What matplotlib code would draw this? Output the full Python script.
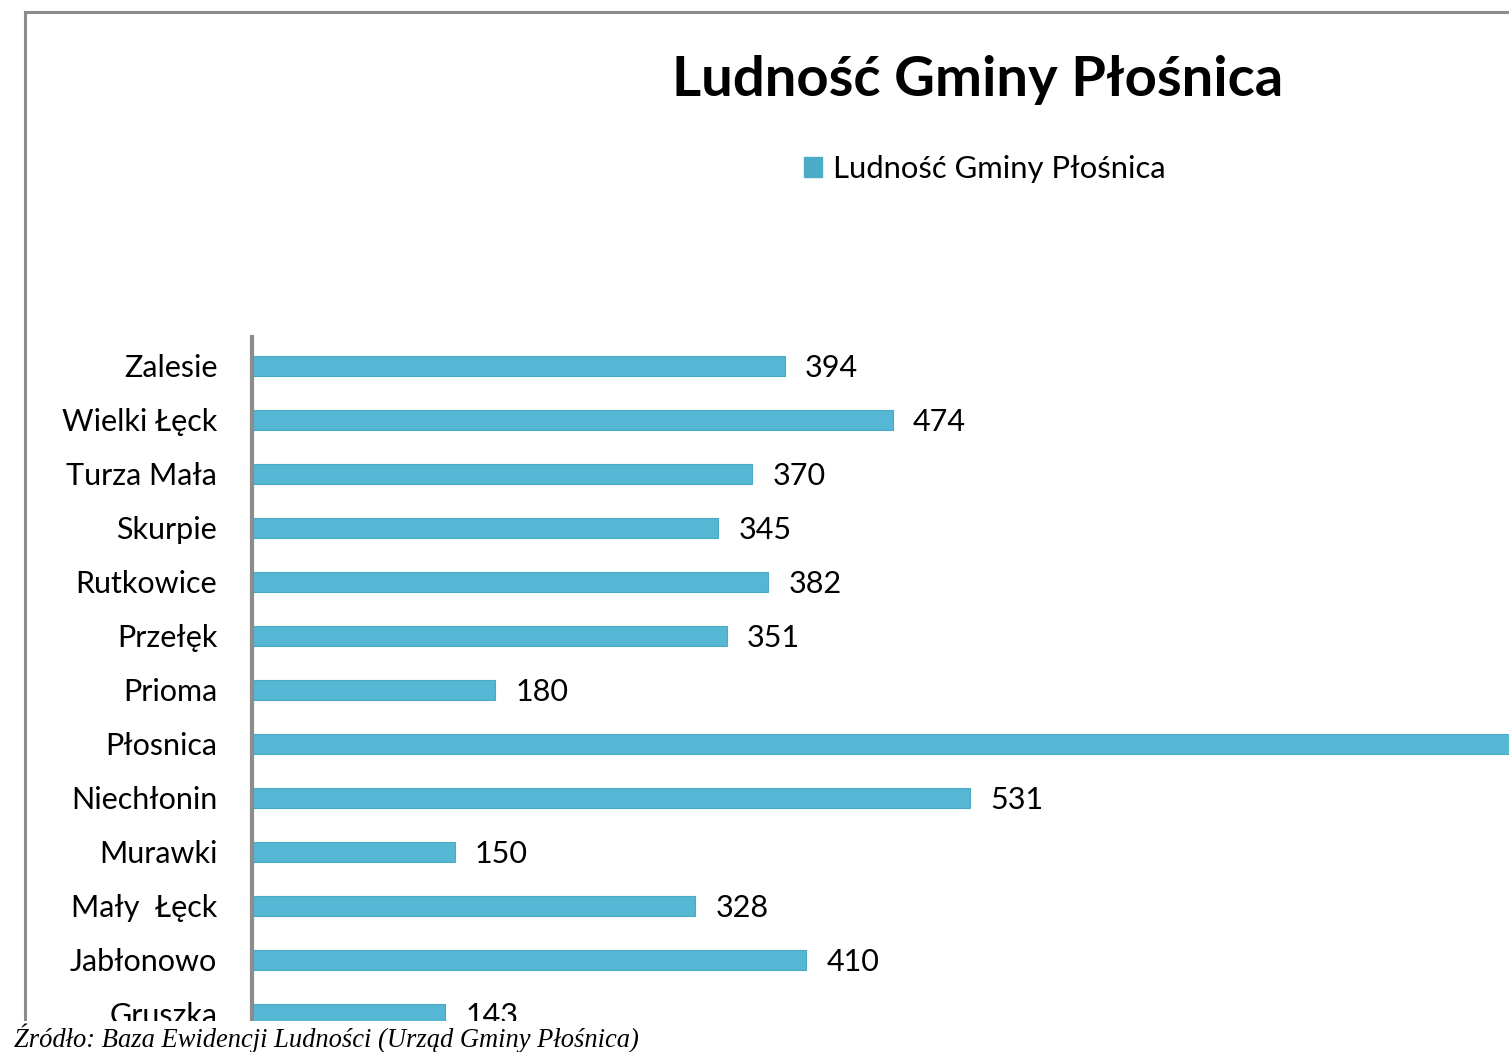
import matplotlib
matplotlib.use("Agg")
import matplotlib.pyplot as plt
from matplotlib.patches import Rectangle
from matplotlib.lines import Line2D

# data, top to bottom as drawn in the picture
villages = ["Zalesie", "Wielki Łęck", "Turza Mała", "Skurpie", "Rutkowice",
            "Przełęk", "Prioma", "Płosnica", "Niechłonin", "Murawki",
            "Mały  Łęck", "Jabłonowo", "Gruszka"]
population = [394, 474, 370, 345, 382, 351, 180, 1020, 531, 150, 328, 410, 143]
series_name = "Ludność Gminy Płośnica"
title = "Ludność Gminy Płośnica"
source = "Źródło: Baza Ewidencji Ludności (Urząd Gminy Płośnica)"

W, H = 1509, 1052
BAR = "#55b7d4"
FONT = "Lato"

fig = plt.figure(figsize=(W / 100, H / 100), dpi=100)

# axes: left edge at the value axis line, running off the right and bottom
left_px, top_px, bottom_px = 252, 337, 1041
px_per_unit = 1.352
ax = fig.add_axes([left_px / W, 1 - bottom_px / H, 1 - left_px / W, (bottom_px - top_px) / H])
xmax = (W - left_px) / px_per_unit
ax.set_xlim(0, xmax)
slot = 54.0
ax.set_ylim(-0.537 + (bottom_px - top_px) / slot, -0.537)

y = list(range(len(villages)))
ax.barh(y, population, height=0.37, color=BAR, edgecolor="#4aa9c4", linewidth=0.8)
for yi, v in zip(y, population):
    xt = v + 20 / px_per_unit
    if xt > xmax:
        continue  # label lies past the cropped edge
    ax.text(xt, yi + 0.04, str(v), va="center", ha="left",
            fontsize=22, family=FONT, color="black")

ax.set_yticks(y)
ax.set_yticklabels(villages, fontsize=22, family=FONT)
ax.tick_params(axis="y", length=0, pad=25)
ax.set_xticks([])
for s in ("top", "right", "bottom"):
    ax.spines[s].set_visible(False)
ax.spines["left"].set_color("#8c8c8c")
ax.spines["left"].set_linewidth(3)

# title and legend
fig.text(978 / W, 1 - 80 / H, title, ha="center", va="center",
         fontsize=40.5, fontweight="bold", family=FONT)
handle = Rectangle((0, 0), 1, 1, color="#4bacc6")
fig.legend([handle], [series_name], loc="center left",
           bbox_to_anchor=(776 / W, 1 - 169 / H), frameon=False,
           prop={"family": FONT, "size": 22.3}, handlelength=0.6, handleheight=0.6,
           handletextpad=0.35)

# chart border (top and left only visible in the crop)
fig.add_artist(Line2D([25 / W, 25 / W], [1 - 1022 / H, 1 - 12 / H], color="#8c8c8c", lw=2.2))
fig.add_artist(Line2D([25 / W, 1.0], [1 - 12 / H, 1 - 12 / H], color="#8c8c8c", lw=2.2))

# white band where the crop ends, with the source note
fig.add_artist(Rectangle((0, 0), 1, 1 - 1021 / H, transform=fig.transFigure,
                         facecolor="white", edgecolor="none", zorder=10))
fig.text(14 / W, 1 - 1038 / H, source, ha="left", va="center", fontsize=19.1,
         style="italic", family="Liberation Serif", zorder=11)

fig.savefig("out.png", dpi=100)
